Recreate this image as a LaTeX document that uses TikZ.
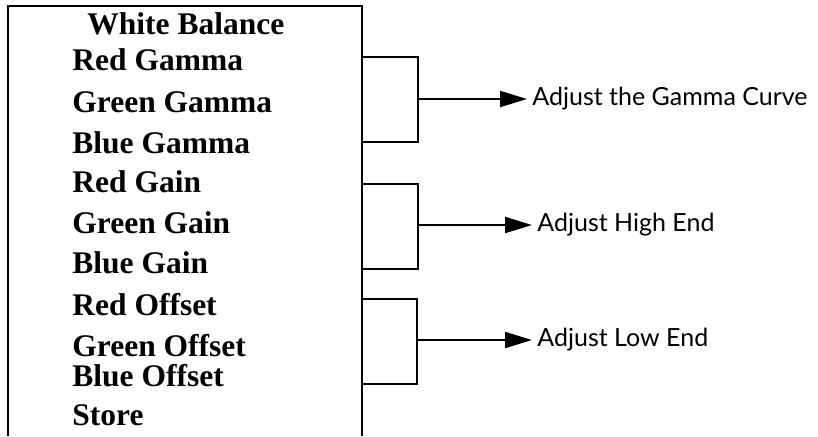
\documentclass[tikz,border=0pt]{standalone}
\usepackage{fontspec}
\setmainfont{Liberation Serif}
\newfontfamily\notefont{Lato}
\usetikzlibrary{arrows.meta,positioning}

\begin{document}
\begin{tikzpicture}[
    x=0.5pt, y=-0.5pt,
    item/.style={
      anchor=base west,
      inner sep=0pt,
      font=\fontsize{15.75}{18}\selectfont\bfseries
    },
    note/.style={
      anchor=west,
      inner sep=2.5pt,
      font=\notefont\fontsize{12.5}{15}\selectfont
    },
    line/.style={line width=1pt},
    arrow/.style={
      -{Triangle[length=13.5pt,width=8pt]},
      line width=1pt
    }
  ]
  \useasboundingbox (0,0) rectangle (818,436);

  % menu box, open at the bottom
  \coordinate (boxleft) at (8,436);
  \coordinate (boxtop) at (362,6);
  \coordinate (boxright) at (362,436);
  \draw[line] (boxleft) |- (boxtop) -- (boxright);

  \node[item] (wb) at (87,34) {White Balance};
  \node[item] (redgamma) at (72,70) {Red Gamma};
  \node[item] (greengamma) at (72,112) {Green Gamma};
  \node[item] (bluegamma) at (72,153) {Blue Gamma};
  \node[item] (redgain) at (72,192) {Red Gain};
  \node[item] (greengain) at (72,233) {Green Gain};
  \node[item] (bluegain) at (72,273) {Blue Gain};
  \node[item] (redoffset) at (72,315) {Red Offset};
  \node[item] (greenoffset) at (72,356) {Green Offset};
  \node[item] (blueoffset) at (72,386) {Blue Offset};
  \node[item] (store) at (72,425) {Store};

  % brackets
  \coordinate (gammatop) at (362,57);
  \coordinate (gammabot) at (362,142);
  \coordinate (gammamid) at (418,99);
  \draw[line] (gammatop) -- ++(56,0) |- (gammabot);

  \coordinate (hightop) at (362,184);
  \coordinate (highbot) at (362,269);
  \coordinate (highmid) at (418,225);
  \draw[line] (hightop) -- ++(56,0) |- (highbot);

  \coordinate (lowtop) at (362,299);
  \coordinate (lowbot) at (362,384);
  \coordinate (lowmid) at (417,340);
  \draw[line] (lowtop) -- ++(55,0) |- (lowbot);

  % notes
  \node[note] (gammanote) at (527,99) {Adjust the Gamma Curve};
  \node[note] (highnote) at (532,225) {Adjust High End};
  \node[note] (lownote) at (532,340) {Adjust Low End};

  \draw[arrow] (gammamid) -- (gammanote.west);
  \draw[arrow] (highmid) -- (highnote.west);
  \draw[arrow] (lowmid) -- (lownote.west);

\end{tikzpicture}
\end{document}
